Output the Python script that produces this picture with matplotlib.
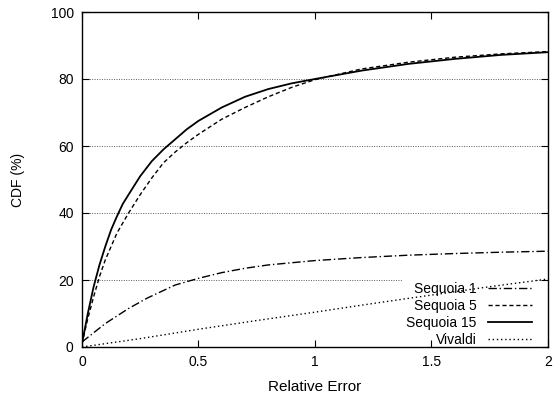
import numpy as np
import matplotlib.pyplot as plt

plt.rcParams['font.family'] = ['Liberation Sans', 'DejaVu Sans']

# CDF of relative error for each system
seq15_x = [0, 0.025, 0.05, 0.075, 0.1, 0.125, 0.15, 0.175, 0.2, 0.25, 0.3, 0.35, 0.4, 0.45,
           0.5, 0.6, 0.7, 0.8, 0.9, 1.0, 1.2, 1.4, 1.6, 1.8, 2.0]
seq15_y = [1, 10, 18, 24.5, 30, 35, 39, 42.7, 45.5, 51, 55.5, 59, 62, 65,
           67.5, 71.5, 74.7, 77, 78.7, 80, 82.5, 84.5, 86, 87.2, 88]

seq5_x = [0, 0.025, 0.05, 0.075, 0.1, 0.15, 0.2, 0.25, 0.3, 0.35, 0.4, 0.45, 0.5, 0.6,
          0.7, 0.8, 0.9, 1.0, 1.2, 1.4, 1.6, 1.8, 2.0]
seq5_y = [1, 8.5, 15, 21, 26, 34, 40, 45.5, 50.5, 55, 58.2, 61, 63.5, 68,
          71.5, 74.7, 77.5, 79.8, 83, 85, 86.5, 87.5, 88.2]

seq1_x = [0, 0.1, 0.2, 0.28, 0.4, 0.5, 0.6, 0.7, 0.8, 1.0, 1.2, 1.4, 1.6, 1.8, 2.0]
seq1_y = [1.5, 7, 11.5, 14.6, 18.5, 20.5, 22.2, 23.5, 24.5, 25.8, 26.7, 27.4, 27.9, 28.3, 28.6]

viv_x = [0, 0.25, 0.5, 0.75, 1.0, 1.25, 1.5, 1.75, 2.0]
viv_y = [0, 2.5, 5.3, 7.9, 10.4, 13, 15.5, 18, 20.3]

grid_levels = [20, 40, 60, 80]

fig = plt.figure(figsize=(5.54, 4.0), dpi=100)
ax = fig.add_axes([0.148, 0.1325, 0.841, 0.8375])

# dotted horizontal grid under everything
for g in grid_levels:
    ax.axhline(g, color='0.35', lw=0.7, ls=(0, (1, 1.5)), zorder=0.5)

ax.plot(seq1_x, seq1_y, color='black', lw=1.0, ls=(0, (6, 2, 1, 2)), label='Sequoia 1', zorder=3)
ax.plot(seq5_x, seq5_y, color='black', lw=1.0, ls=(0, (3, 2)), label='Sequoia 5', zorder=3)
ax.plot(seq15_x, seq15_y, color='black', lw=1.3, ls='-', label='Sequoia 15', zorder=3)
ax.plot(viv_x, viv_y, color='black', lw=1.0, ls=(0, (1, 2)), label='Vivaldi', zorder=3)

ax.set_xlim(0, 2)
ax.set_ylim(0, 100)
ax.set_xticks([0, 0.5, 1, 1.5, 2])
ax.set_xticklabels(['0', '0.5', '1', '1.5', '2'])
ax.set_yticks([0, 20, 40, 60, 80, 100])
ax.tick_params(direction='in', length=5, top=True, right=True, labelsize=10, pad=6)

for s in ax.spines.values():
    s.set_linewidth(1.0)

ax.set_xlabel('Relative Error', fontsize=11, labelpad=8)
ax.set_ylabel('CDF (%)', fontsize=10, labelpad=18.5)

leg = ax.legend(loc='lower right', bbox_to_anchor=(0.981, -0.021), markerfirst=False,
                fontsize=10, handlelength=3.2, labelspacing=0.22, borderaxespad=0.3,
                frameon=True, fancybox=False, framealpha=1, edgecolor='none',
                facecolor='white', borderpad=0.2, handletextpad=0.8)
leg.set_zorder(1)

plt.savefig('out.png', dpi=100)
